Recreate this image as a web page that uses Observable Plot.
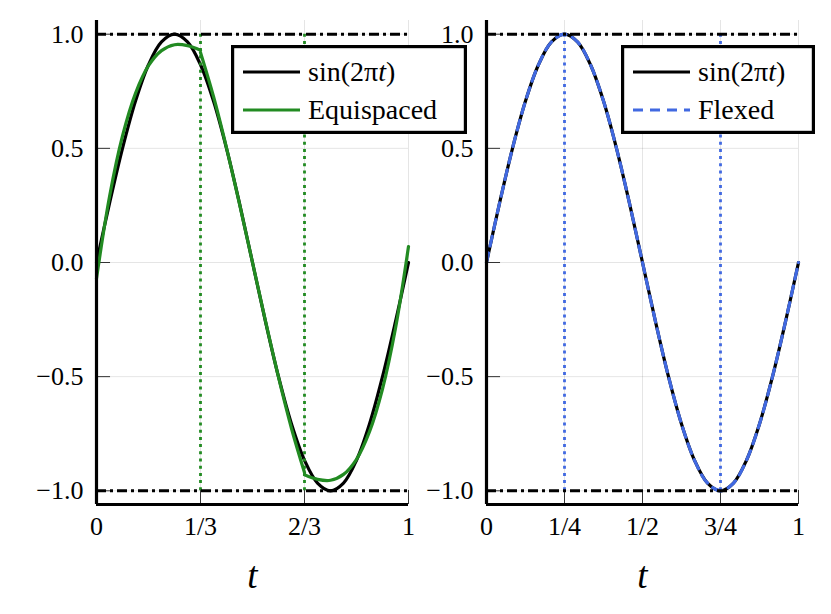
<!DOCTYPE html>
<html>
<head>
<meta charset="utf-8">
<script src="https://cdn.jsdelivr.net/npm/d3@7"></script>
<script src="https://cdn.jsdelivr.net/npm/@observablehq/plot@0.6"></script>
<style>
  html, body { margin: 0; padding: 0; background: #fff; }
  #wrap { position: relative; width: 831px; height: 614px; overflow: hidden; }
  #wrap svg.plotsvg { position: absolute; top: 0; }
  #wrap svg text { font-family: "Liberation Serif", "DejaVu Sans Mono", monospace; }
  .legend { position: absolute; z-index: 5; }
</style>
</head>
<body>
<div id="wrap"></div>
<script>
// ---------- data ----------
const tSin = [0, 1/24, 2/24, 3/24, 4/24, 5/24, 6/24, 7/24, 8/24, 9/24, 10/24, 11/24, 12/24,
              13/24, 14/24, 15/24, 16/24, 17/24, 18/24, 19/24, 20/24, 21/24, 22/24, 23/24, 1];
const sinValues = [0, 0.2588, 0.5, 0.7071, 0.8660, 0.9659, 1, 0.9659, 0.8660, 0.7071, 0.5, 0.2588, 0,
                   -0.2588, -0.5, -0.7071, -0.8660, -0.9659, -1, -0.9659, -0.8660, -0.7071, -0.5, -0.2588, 0];
const flexedValues = [0, 0.2590, 0.5, 0.7070, 0.8662, 0.9660, 1, 0.9660, 0.8662, 0.7070, 0.5, 0.2590, 0,
                      -0.2590, -0.5, -0.7070, -0.8662, -0.9660, -1, -0.9660, -0.8662, -0.7070, -0.5, -0.2590, 0];

const tSeg1 = [0, 1/24, 2/24, 3/24, 4/24, 5/24, 6/24, 7/24, 8/24];
const eqSeg1 = [-0.07, 0.288, 0.554, 0.741, 0.862, 0.928, 0.954, 0.950, 0.930];
const tSeg2 = [8/24, 9/24, 10/24, 11/24, 12/24, 13/24, 14/24, 15/24, 16/24];
const eqSeg2 = [0.92, 0.727, 0.5025, 0.2566, 0, -0.2566, -0.5025, -0.727, -0.92];
const tSeg3 = [16/24, 17/24, 18/24, 19/24, 20/24, 21/24, 22/24, 23/24, 1];
const eqSeg3 = [-0.930, -0.950, -0.954, -0.928, -0.862, -0.741, -0.554, -0.288, 0.07];

const equiKnots = [1/3, 2/3];
const flexKnots = [1/4, 3/4];
const boundLevels = [-1, 1];

const leftXTicks = [0, 1/3, 2/3, 1];
const leftXLabels = ["0", "1/3", "2/3", "1"];
const rightXTicks = [0, 1/4, 1/2, 3/4, 1];
const rightXLabels = ["0", "1/4", "1/2", "3/4", "1"];
const yTicks = [-1, -0.5, 0, 0.5, 1];
const yLabels = ["\u22121.0", "\u22120.5", "0.0", "0.5", "1.0"];

// ---------- helpers ----------
const GREEN = "#228b22";
const BLUE = "#4169e1";
const Y_DOMAIN = [-1.06, 1.06];
const FONT = "Liberation Serif";
const LW = 3.2;

const sinData = tSin.map((t, i) => ({t, y: sinValues[i]}));
const flexData = tSin.map((t, i) => ({t, y: flexedValues[i]}));
const equiData = [
  ...tSeg1.map((t, i) => ({t, y: eqSeg1[i], seg: 1})),
  ...tSeg2.map((t, i) => ({t, y: eqSeg2[i], seg: 2})),
  ...tSeg3.map((t, i) => ({t, y: eqSeg3[i], seg: 3}))
];

function panel({left, marginLeft, width, xTicks, xLabels, curves, knots, knotColor}) {
  const tickLenX = 0.045;
  const tickLenY = 14 / 228;
  const svg = Plot.plot({
    width, height: 614,
    marginLeft, marginRight: width - marginLeft - 312,
    marginTop: 20, marginBottom: 110,
    x: {domain: [0, 1]},
    y: {domain: Y_DOMAIN},
    style: {fontFamily: FONT, fontSize: "26px", background: "transparent", color: "black"},
    marks: [
      Plot.gridX(xTicks, {stroke: "#000", strokeOpacity: 0.1, strokeWidth: 1}),
      Plot.gridY(yTicks, {stroke: "#000", strokeOpacity: 0.1, strokeWidth: 1}),
      Plot.ruleY(yTicks, {x1: 0, x2: tickLenX, stroke: "#333", strokeWidth: 1}),
      Plot.ruleX(xTicks, {y1: Y_DOMAIN[0], y2: Y_DOMAIN[0] + tickLenY, stroke: "#333", strokeWidth: 1}),
      Plot.axisY(yTicks, {tickSize: 0, tickPadding: 13, tickFormat: (d) => yLabels[yTicks.indexOf(d)], label: null, fontSize: 26}),
      Plot.axisX(xTicks, {tickSize: 0, tickPadding: 12, tickFormat: (d) => xLabels[xTicks.indexOf(d)], label: null, fontSize: 26}),
      Plot.text(["t"], {text: (d) => d, frameAnchor: "bottom", lineAnchor: "top", dy: 57, fontSize: 37, fontStyle: "italic"}),
      ...curves,
      Plot.ruleX(knots, {y1: -1, y2: 1, stroke: knotColor, strokeWidth: 2.8, strokeDasharray: "3,4.2"}),
      Plot.ruleY(boundLevels, {stroke: "black", strokeWidth: 3, strokeDasharray: "10,4,3,4"}),
      Plot.ruleX([0], {stroke: "black", strokeWidth: 3.2}),
      Plot.ruleY([Y_DOMAIN[0]], {stroke: "black", strokeWidth: 3.2})
    ]
  });
  svg.classList.add("plotsvg");
  svg.style.left = left + "px";
  return svg;
}

const wrap = document.getElementById("wrap");

wrap.appendChild(panel({
  left: 0, marginLeft: 96, width: 415,
  xTicks: leftXTicks, xLabels: leftXLabels,
  knots: equiKnots, knotColor: GREEN,
  curves: [
    Plot.line(sinData, {x: "t", y: "y", stroke: "black", strokeWidth: LW, curve: "catmull-rom"}),
    Plot.line(equiData, {x: "t", y: "y", z: "seg", stroke: GREEN, strokeWidth: LW, curve: "catmull-rom"})
  ]
}));

wrap.appendChild(panel({
  left: 415, marginLeft: 71, width: 416,
  xTicks: rightXTicks, xLabels: rightXLabels,
  knots: flexKnots, knotColor: BLUE,
  curves: [
    Plot.line(sinData, {x: "t", y: "y", stroke: "black", strokeWidth: LW, curve: "catmull-rom"}),
    Plot.line(flexData, {x: "t", y: "y", stroke: BLUE, strokeWidth: LW, strokeDasharray: "10,7", curve: "catmull-rom"})
  ]
}));

// ---------- legends ----------
const NS = "http://www.w3.org/2000/svg";
function legend(left, top, w, h, entries) {
  const s = document.createElementNS(NS, "svg");
  s.setAttribute("class", "legend");
  s.setAttribute("width", w);
  s.setAttribute("height", h);
  s.style.left = left + "px";
  s.style.top = top + "px";
  const r = document.createElementNS(NS, "rect");
  r.setAttribute("x", 1.6); r.setAttribute("y", 1.6);
  r.setAttribute("width", w - 3.2); r.setAttribute("height", h - 3.2);
  r.setAttribute("fill", "white"); r.setAttribute("stroke", "black"); r.setAttribute("stroke-width", 3.2);
  s.appendChild(r);
  entries.forEach((e, i) => {
    const y = 27 + i * 38;
    const l = document.createElementNS(NS, "line");
    l.setAttribute("x1", 12); l.setAttribute("x2", 69);
    l.setAttribute("y1", y); l.setAttribute("y2", y);
    l.setAttribute("stroke", e.color); l.setAttribute("stroke-width", LW);
    if (e.dash) l.setAttribute("stroke-dasharray", e.dash);
    s.appendChild(l);
    const t = document.createElementNS(NS, "text");
    t.setAttribute("x", 77); t.setAttribute("y", y + 9);
    t.setAttribute("font-size", 28);
    if (e.math) {
      t.appendChild(document.createTextNode("sin(2\u03c0"));
      const ts = document.createElementNS(NS, "tspan");
      ts.setAttribute("font-style", "italic");
      ts.textContent = "t";
      t.appendChild(ts);
      t.appendChild(document.createTextNode(")"));
    } else {
      t.textContent = e.label;
    }
    s.appendChild(t);
  });
  wrap.appendChild(s);
}

legend(231, 45, 236, 89, [
  {color: "black", math: true},
  {color: GREEN, label: "Equispaced"}
]);
legend(621, 45, 194, 89, [
  {color: "black", math: true},
  {color: BLUE, label: "Flexed", dash: "10,7"}
]);
</script>
</body>
</html>
